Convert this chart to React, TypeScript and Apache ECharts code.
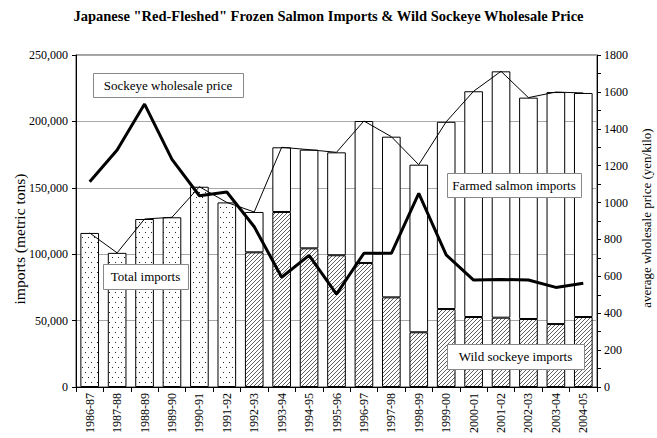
import React, { useEffect, useRef } from "react";
import * as echarts from "echarts";

const categories = [
  "1986-87", "1987-88", "1988-89", "1989-90", "1990-91", "1991-92", "1992-93",
  "1993-94", "1994-95", "1995-96", "1996-97", "1997-98", "1998-99", "1999-00",
  "2000-01", "2001-02", "2002-03", "2003-04", "2004-05",
];
const totalImports = [
  116000, 101000, 126500, 127800, 150800, 139000, 131800, 180500, 178700, 176700,
  200300, 188500, 167400, 199700, 222700, 237700, 217900, 222100, 221400,
];
const wildSockeyeImports = [
  null, null, null, null, null, null, 101400, 131800, 104400, 99200, 93400, 67500,
  41200, 58700, 52700, 52200, 51200, 47400, 52700,
];
const sockeyePrice = [
  1113, 1285, 1534, 1234, 1037, 1057, 869, 595, 714, 504, 725, 725, 1050, 716,
  580, 583, 580, 540, 562,
];
const leftTicks = { min: 0, max: 250000, interval: 50000 };
const rightTicks = { min: 0, max: 1800, interval: 200 };

const FONT = "Liberation Serif";

function makePattern(w: number, h: number, draw: (c: CanvasRenderingContext2D) => void) {
  const cv = document.createElement("canvas");
  cv.width = w;
  cv.height = h;
  const ctx = cv.getContext("2d")!;
  ctx.fillStyle = "#ffffff";
  ctx.fillRect(0, 0, w, h);
  draw(ctx);
  return { image: cv.toDataURL(), imageWidth: w, imageHeight: h, repeat: "repeat" } as any;
}

export default function App() {
  const ref = useRef<HTMLDivElement>(null);
  useEffect(() => {
    if (!ref.current) return;
    document.body.style.margin = "0";
    const chart = echarts.init(ref.current, undefined, { renderer: "svg" });

    const dots = makePattern(6, 10, (c) => {
      c.fillStyle = "#222";
      c.fillRect(1, 2, 1, 1);
      c.fillRect(4, 7, 1, 1);
    });
    const hatch = makePattern(4, 4, (c) => {
      c.strokeStyle = "#3a3a3a";
      c.lineWidth = 0.8;
      c.beginPath();
      c.moveTo(-1, 5);
      c.lineTo(5, -1);
      c.moveTo(-1, 1);
      c.lineTo(1, -1);
      c.moveTo(3, 5);
      c.lineTo(5, 3);
      c.stroke();
    });

    const earlyTotal = totalImports.map((v, i) => (wildSockeyeImports[i] == null ? v : null));
    const farmed = totalImports.map((v, i) =>
      wildSockeyeImports[i] == null ? null : v - (wildSockeyeImports[i] as number)
    );

    const box = (x: number, y: number, w: number, h: number, text: string) => [
      {
        type: "rect",
        left: x,
        top: y,
        z: 100,
        shape: { x: 0, y: 0, width: w, height: h },
        style: { fill: "#ffffff", stroke: "#888888", lineWidth: 1 },
      },
      {
        type: "text",
        x: x + w / 2,
        y: y + h / 2,
        z: 101,
        style: {
          text,
          fill: "#000000",
          font: `13px "${FONT}"`,
          align: "center",
          verticalAlign: "middle",
        },
      },
    ];

    const vText = (x: number, y: number, size: number, text: string) => ({
      type: "text",
      x,
      y,
      rotation: Math.PI / 2,
      z: 101,
      style: {
        text,
        fill: "#000000",
        font: `${size}px "${FONT}"`,
        align: "center",
        verticalAlign: "middle",
      },
    });

    chart.setOption({
      animation: false,
      backgroundColor: "#fff",
      textStyle: { fontFamily: FONT },
      title: {
        text: 'Japanese "Red-Fleshed" Frozen Salmon Imports & Wild Sockeye Wholesale Price',
        left: "center",
        top: 3,
        textStyle: { fontFamily: FONT, fontSize: 14.5, fontWeight: "bold", color: "#000" },
      },
      grid: {
        left: 76,
        right: 60,
        top: 55,
        bottom: 51,
        show: true,
        borderColor: "#444",
        borderWidth: 1,
      },
      xAxis: {
        type: "category",
        data: categories,
        boundaryGap: true,
        axisLine: { lineStyle: { color: "#000" } },
        axisTick: { show: true, alignWithLabel: false, length: 5, lineStyle: { color: "#000" } },
        axisLabel: { rotate: 90, color: "#000", fontSize: 12, fontFamily: FONT, margin: 6 },
      },
      yAxis: [
        {
          type: "value",
          min: leftTicks.min,
          max: leftTicks.max,
          interval: leftTicks.interval,
          axisLine: { show: true, lineStyle: { color: "#000" } },
          axisTick: { show: true, length: 4, lineStyle: { color: "#000" } },
          axisLabel: {
            color: "#000",
            fontSize: 12,
            fontFamily: FONT,
            margin: 8,
            formatter: (v: number) => v.toLocaleString("en-US"),
          },
          splitLine: { show: true, lineStyle: { color: "#a8a8a8", width: 1 } },
        },
        {
          type: "value",
          min: rightTicks.min,
          max: rightTicks.max,
          interval: rightTicks.interval,
          axisLine: { show: true, lineStyle: { color: "#000" } },
          axisTick: { show: true, length: 4, lineStyle: { color: "#000" } },
          minorTick: { show: true, splitNumber: 2, length: 4, lineStyle: { color: "#000" } },
          axisLabel: {
            color: "#000",
            fontSize: 12,
            fontFamily: FONT,
            margin: 7,
            formatter: (v: number) => String(v),
          },
          splitLine: { show: false },
        },
      ],
      series: [
        {
          name: "Total imports",
          type: "bar",
          stack: "imports",
          barWidth: "68%",
          data: earlyTotal,
          itemStyle: { color: dots, borderColor: "#000", borderWidth: 1 },
        },
        {
          name: "Wild sockeye imports",
          type: "bar",
          stack: "imports",
          data: wildSockeyeImports,
          itemStyle: { color: hatch, borderColor: "#000", borderWidth: 1 },
        },
        {
          name: "Farmed salmon imports",
          type: "bar",
          stack: "imports",
          data: farmed,
          itemStyle: { color: "#fff", borderColor: "#000", borderWidth: 1 },
        },
        {
          name: "Total imports line",
          type: "line",
          data: totalImports,
          symbol: "none",
          z: 5,
          lineStyle: { color: "#000", width: 1 },
        },
        {
          name: "Sockeye wholesale price",
          type: "line",
          yAxisIndex: 1,
          data: sockeyePrice,
          symbol: "none",
          z: 6,
          lineStyle: { color: "#000", width: 3 },
        },
      ],
      graphic: [
        ...box(93, 73, 150, 24, "Sockeye wholesale price"),
        ...box(103, 264, 85, 25, "Total imports"),
        ...box(447, 173, 134, 24, "Farmed salmon imports"),
        ...box(447, 344, 137, 25, "Wild sockeye imports"),
        vText(19, 239, 15.5, "imports (metric tons)"),
        vText(646, 218, 13, "average wholesale price (yen/kilo)"),
      ],
    });
    return () => chart.dispose();
  }, []);
  return <div ref={ref} style={{ width: 657, height: 438 }} />;
}
